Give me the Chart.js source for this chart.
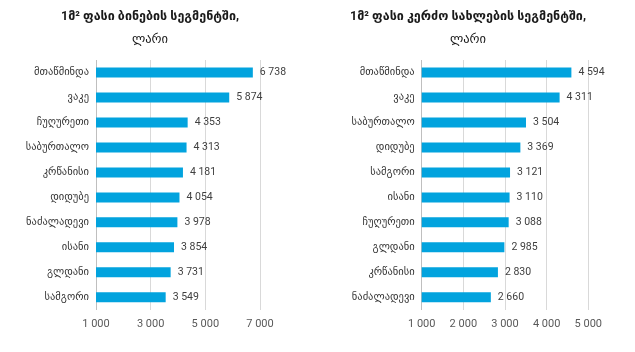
<!DOCTYPE html>
<html><head><meta charset="utf-8">
<script src="https://cdn.jsdelivr.net/npm/chart.js@4"></script>
<style>
html,body{margin:0;padding:0;background:#fff;}
#wrap{position:relative;width:635px;height:352px;overflow:hidden;}
canvas{position:absolute;top:0;}
</style></head><body>
<div id="wrap">
<canvas id="c1" width="317" height="352" style="left:0"></canvas>
<canvas id="c2" width="318" height="352" style="left:317px"></canvas>
</div>
<script>
const titleLeft = '1მ² ფასი ბინების სეგმენტში,';
const titleRight = '1მ² ფასი კერძო სახლების სეგმენტში,';
const unitLabel = 'ლარი';

const flatDistricts = ['მთაწმინდა','ვაკე','ჩუღურეთი','საბურთალო','კრწანისი','დიდუბე','ნაძალადევი','ისანი','გლდანი','სამგორი'];
const flatPrices = [6738, 5874, 4353, 4313, 4181, 4054, 3978, 3854, 3731, 3549];

const houseDistricts = ['მთაწმინდა','ვაკე','საბურთალო','დიდუბე','სამგორი','ისანი','ჩუღურეთი','გლდანი','კრწანისი','ნაძალადევი'];
const housePrices = [4594, 4311, 3504, 3369, 3121, 3110, 3088, 2985, 2830, 2660];

const flatAxis = {min: 1000, max: 7000, step: 2000};
const houseAxis = {min: 1000, max: 5000, step: 1000};

const fmt = v => String(v).replace(/\B(?=(\d{3})+(?!\d))/g, ' ');
const FONT = 'Roboto, "DejaVu Sans", sans-serif';

const valueLabels = {
  id: 'valueLabels',
  afterDatasetsDraw(chart) {
    const ctx = chart.ctx;
    const meta = chart.getDatasetMeta(0);
    const data = chart.data.datasets[0].data;
    ctx.save();
    ctx.font = '10.5px ' + FONT;
    ctx.fillStyle = '#404040';
    ctx.textBaseline = 'middle';
    ctx.textAlign = 'left';
    meta.data.forEach((bar, i) => ctx.fillText(fmt(data[i]), bar.x + 7, bar.y));
    ctx.restore();
  }
};

// shift the title block's left edge so the title is centred like the reference
const titleShift = {
  id: 'titleShift',
  afterLayout(chart, args, opts) {
    chart.boxes.forEach(b => {
      if (b.fullSize && b.position === 'top') { b.left = opts.left; }
    });
  }
};

function makeChart(id, title, labels, values, axis, yWidth, padR, titleLeftEdge) {
  return new Chart(document.getElementById(id), {
    type: 'bar',
    data: { labels: labels, datasets: [{ data: values, backgroundColor: '#02a3de', borderWidth: 0,
      categoryPercentage: 1, barPercentage: 0.4 }] },
    options: {
      indexAxis: 'y',
      responsive: false,
      animation: false,
      layout: { padding: { left: 0, right: padR, top: 0, bottom: 13 } },
      plugins: {
        legend: { display: false },
        tooltip: { enabled: false },
        titleShift: { left: titleLeftEdge },
        title: { display: true, text: title, color: '#1a1a1a',
          font: { family: FONT, size: 12.5, weight: 'bold' }, padding: { top: 9, bottom: 8 } },
        subtitle: { display: true, text: unitLabel, color: '#1a1a1a',
          font: { family: FONT, size: 12.5, weight: 'normal' }, padding: { top: 0, bottom: 13 } }
      },
      scales: {
        x: {
          min: axis.min, max: axis.max,
          ticks: { stepSize: axis.step, callback: v => fmt(v), color: '#595959',
            font: { family: FONT, size: 11 }, padding: 8, maxRotation: 0 },
          grid: { color: '#d9d9d9', drawTicks: false },
          border: { display: false }
        },
        y: {
          afterFit: s => { s.width = yWidth; },
          ticks: { color: '#333', font: { family: FONT, size: 10.5 }, padding: 7 },
          grid: { display: false, drawTicks: false },
          border: { display: true, color: '#bfbfbf' }
        }
      }
    },
    plugins: [valueLabels, titleShift]
  });
}

makeChart('c1', titleLeft, flatDistricts, flatPrices, flatAxis, 96, 57, 40);
makeChart('c2', titleRight, houseDistricts, housePrices, houseAxis, 104.7, 46.7, 30.7);
</script>
</body></html>
